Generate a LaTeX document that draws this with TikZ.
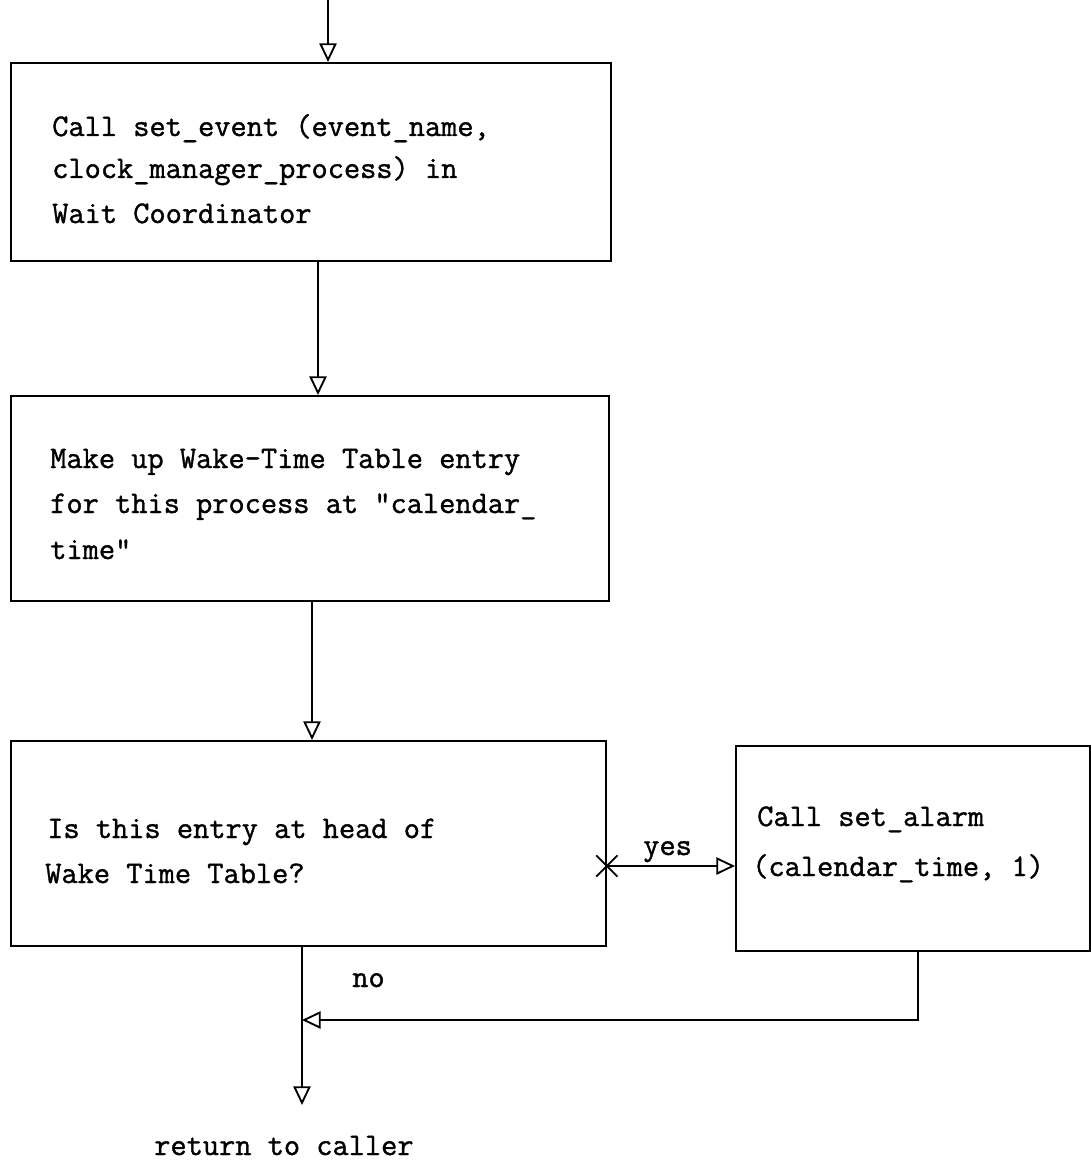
\documentclass[tikz,border=0pt]{standalone}
\usepackage{fontspec}
\setmonofont{Latin Modern Mono}[FakeBold=1.2]
\usetikzlibrary{arrows.meta}
\begin{document}
\begin{tikzpicture}[x=0.75pt,y=-0.75pt,
  box/.style={draw, line width=1.4pt, inner sep=0pt, anchor=north west},
  tl/.style={font=\fontsize{23.6}{30}\selectfont\ttfamily, anchor=base west, inner sep=0pt},
  arr/.style={line width=1.4pt, -{Triangle[open, length=14pt, width=13pt, line width=1.4pt]}},
  ln/.style={line width=1.4pt}]
\useasboundingbox (0,0) rectangle (1091,1166);
% boxes
\node[box, minimum width=450pt, minimum height=148.5pt] (b1) at (10,62) {};
\node[box, minimum width=448.5pt, minimum height=153.75pt] (b2) at (10,395) {};
\node[box, minimum width=446.25pt, minimum height=153.75pt] (b3) at (10,740) {};
\node[box, minimum width=265.5pt, minimum height=153.75pt] (b4) at (735,745) {};
% texts
\node[tl] (t1a) at (52,136) {Call set\_event (event\_name,};
\node[tl] (t1b) at (52,178) {clock\_manager\_process) in};
\node[tl] (t1c) at (52,223) {Wait Coordinator};
\node[tl] (t2a) at (50,468) {Make up Wake-Time Table entry};
\node[tl] (t2b) at (50,513) {for this process at "calendar\_};
\node[tl] (t2c) at (50,559) {time"};
\node[tl] (t3a) at (47,838) {Is this entry at head of};
\node[tl] (t3b) at (45,883) {Wake Time Table?};
\node[tl] (t4a) at (757,826) {Call set\_alarm};
\node[tl] (t4b) at (752,876) {(calendar\_time, 1)};
\node[tl] (yes) at (643,855) {yes};
\node[tl] (no) at (352,987) {no};
\node[tl] (ret) at (154,1155) {return to caller};
% connectors
\coordinate (in) at (328,0);
\draw[arr] (in) -- (in |- b1.north);
\draw[arr] ([xshift=231pt]b1.south west) -- ([xshift=231pt]b2.north west);
\draw[arr] ([xshift=226.5pt]b2.south west) -- ([xshift=226.5pt]b3.north west);
\coordinate (ys) at ([yshift=-94.5pt]b3.north east);
\draw[arr] (ys) -- (ys -| b4.west);
\draw[ln] ([xshift=-8pt,yshift=-8pt]ys) -- ([xshift=8pt,yshift=8pt]ys)
          ([xshift=-8pt,yshift=8pt]ys) -- ([xshift=8pt,yshift=-8pt]ys);
\coordinate (nb) at ([xshift=219pt]b3.south west);
\coordinate (end) at (302,1105);
\draw[arr] (nb) -- (nb |- end);
\coordinate (rs) at ([xshift=137.25pt]b4.south west);
\coordinate (rj) at (302,1020);
\draw[arr] (rs) -- (rs |- rj) -- (rj);
\end{tikzpicture}
\end{document}
